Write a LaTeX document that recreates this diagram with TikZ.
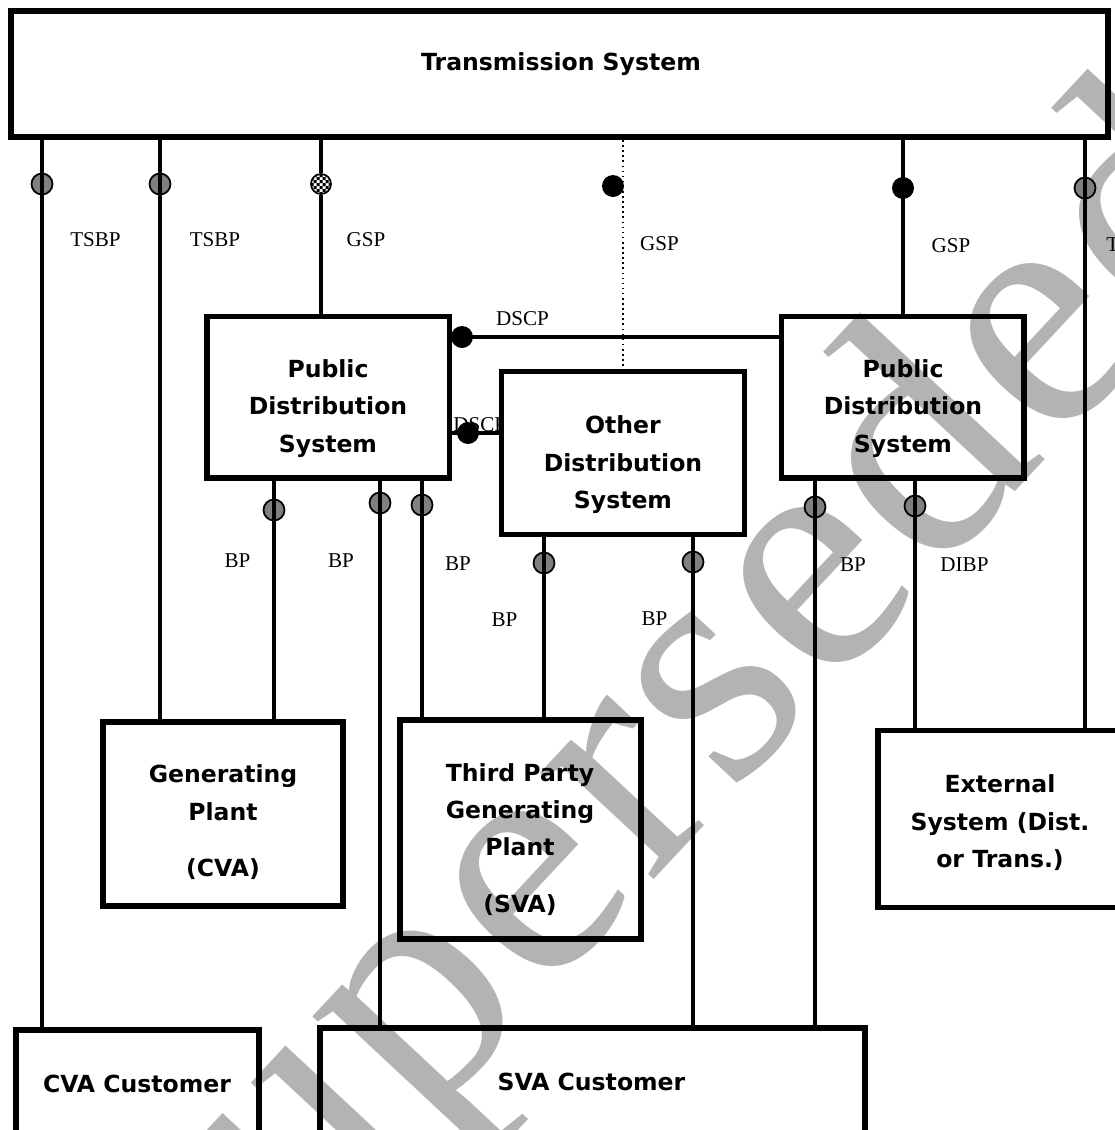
\documentclass[tikz,border=0pt]{standalone}
\usepackage{fontspec}
\setmainfont{Liberation Serif}
\setsansfont{DejaVu Sans}
\newfontfamily\stampfont[LetterSpace=2]{Liberation Serif}
\usetikzlibrary{patterns}
\definecolor{metergray}{RGB}{128,128,128}
\definecolor{stampgray}{RGB}{179,179,179}
% fine checker for the grid supply point
\pgfdeclarepatternformonly{finecheck}{\pgfqpoint{-0.5pt}{-0.5pt}}{\pgfqpoint{4pt}{4pt}}{\pgfqpoint{3.4pt}{3.4pt}}{%
  \pgfpathrectangle{\pgfpointorigin}{\pgfqpoint{1.7pt}{1.7pt}}%
  \pgfpathrectangle{\pgfqpoint{1.7pt}{1.7pt}}{\pgfqpoint{1.7pt}{1.7pt}}%
  \pgfusepath{fill}}

\begin{document}
\begin{tikzpicture}[x=0.02cm, y=-0.02cm,
  sysbox/.style={draw, line width=3.2pt, rectangle, inner sep=0pt},
  systext/.style={font=\sffamily\bfseries\fontsize{13.4}{21.3}\selectfont, align=center, inner sep=0pt},
  feeder/.style={line width=2pt},
  ptlabel/.style={font=\fontsize{12}{14}\selectfont, anchor=base, inner sep=0pt},
  meter/.style={circle, draw, line width=1pt, fill=metergray, minimum size=0.42cm, inner sep=0pt},
  gspdot/.style={circle, fill=black, minimum size=0.44cm, inner sep=0pt}]
\useasboundingbox (0,0) rectangle (1115,1130);

% Watermark behind everything
\node[text=stampgray, rotate=47, anchor=base west, inner sep=0pt, font=\stampfont\fontsize{193}{193}\selectfont] (stamp) at (168,1400) {Superseded};

% Transmission system
\node[sysbox, minimum width=21.94cm, minimum height=2.53cm] (ts) at (559.5,74) {};
\node[systext] (ts-txt) at (561,64) {Transmission System};

% Public distribution systems
\node[sysbox, minimum width=4.85cm, minimum height=3.23cm] (pdsl) at (328.25,397.25) {};
\node[systext] (pdsl-txt) at (328,408.5) {Public\\Distribution\\System};
\node[sysbox, minimum width=4.85cm, minimum height=3.23cm] (pdsr) at (902.75,397.25) {};
\node[systext] (pdsr-txt) at (903,408.5) {Public\\Distribution\\System};

% Other distribution system (hides the end of its DSCP label)
\node[ptlabel, anchor=base west] (dscp2) at (453,431) {DSCP};
\node[sysbox, fill=white, minimum width=4.86cm, minimum height=3.26cm] (other) at (623,453) {};
\node[systext] (other-txt) at (623,465) {Other\\Distribution\\System};

% Generation and external systems
\node[sysbox, minimum width=4.8cm, minimum height=3.68cm] (gen) at (223,814) {};
\node[systext] (gen-txt) at (223,822.5) {Generating\\Plant\\[11pt](CVA)};
\node[sysbox, minimum width=4.82cm, minimum height=4.38cm] (third) at (520.5,829.5) {};
\node[systext] (third-txt) at (520,839.5) {Third Party\\Generating\\Plant\\[11pt](SVA)};
\node[sysbox, minimum width=4.84cm, minimum height=3.54cm] (ext) at (999,819) {};
\node[systext] (ext-txt) at (1000,823) {External\\System (Dist.\\or Trans.)};

% Customers
\node[sysbox, minimum width=4.86cm, minimum height=3.6cm] (cvac) at (137.5,1120) {};
\node[systext] (cvac-txt) at (137,1084) {CVA Customer};
\node[sysbox, minimum width=10.9cm, minimum height=3.6cm] (svac) at (592.5,1118) {};
\node[systext] (svac-txt) at (591.5,1082) {SVA Customer};

% Metering points
\node[meter] (m1) at (42,184) {};
\node[meter] (m2) at (160,184) {};
\node[circle, draw, line width=1pt, fill=white, minimum size=0.4cm, inner sep=0pt] (m3) at (321,184) {};
\fill[pattern=finecheck] (m3) circle (0.19cm);
\node[meter] (m6) at (1085,188) {};
\node[meter] (b1) at (274,510) {};
\node[meter] (b2) at (380,503) {};
\node[meter] (b3) at (422,505) {};
\node[meter] (b4) at (544,563) {};
\node[meter] (b5) at (693,562) {};
\node[meter] (b6) at (815,507) {};
\node[meter] (b7) at (915,506) {};

% Feeders from the transmission system
\draw[feeder] (m1 |- ts.south) -- (m1 |- cvac.north);
\draw[feeder] (m2 |- ts.south) -- (m2 |- gen.north);
\draw[feeder] (m3 |- ts.south) -- (m3.north);
\draw[feeder] (m3.south) -- (m3 |- pdsl.north);
\draw[line width=0.9pt, dotted] (ts.south -| other.north) -- (other.north);
\draw[feeder] (ts.south -| pdsr.north) -- (pdsr.north);
\draw[feeder] (m6 |- ts.south) -- (m6 |- ext.north);

% Feeders below the distribution systems
\draw[feeder] (b1 |- pdsl.south) -- (b1 |- gen.north);
\draw[feeder] (b2 |- pdsl.south) -- (b2 |- svac.north);
\draw[feeder] (b3 |- pdsl.south) -- (b3 |- third.north);
\draw[feeder] (b4 |- other.south) -- (b4 |- third.north);
\draw[feeder] (b5 |- other.south) -- (b5 |- svac.north);
\draw[feeder] (b6 |- pdsr.south) -- (b6 |- svac.north);
\draw[feeder] (b7 |- pdsr.south) -- (b7 |- ext.north);

% Distribution system connection points
\node[gspdot] (m4) at (613,186) {};
\node[gspdot] (m5) at (903,188) {};
\node[gspdot] (d1) at (462,337) {};
\node[gspdot] (d2) at (468,433) {};
\draw[feeder] (d1 -| pdsl.east) -- (d1 -| pdsr.west);
\draw[feeder] (d2 -| pdsl.east) -- (d2 -| other.west);

% Point labels
\node[ptlabel] (l1) at (95.5,246) {TSBP};
\node[ptlabel] (l2) at (215,246) {TSBP};
\node[ptlabel] (l3) at (366,246) {GSP};
\node[ptlabel] (l4) at (659.5,250) {GSP};
\node[ptlabel] (l5) at (951,252) {GSP};
\node[ptlabel, anchor=base west] (l6) at (1106,251) {TSBP};
\node[ptlabel] (dscp1) at (522.5,325) {DSCP};
\node[ptlabel] (l7) at (237.5,567) {BP};
\node[ptlabel] (l8) at (341,567) {BP};
\node[ptlabel] (l9) at (458,570) {BP};
\node[ptlabel] (l10) at (504.5,626) {BP};
\node[ptlabel] (l11) at (654.5,625) {BP};
\node[ptlabel] (l12) at (853,571) {BP};
\node[ptlabel] (l13) at (964.5,571) {DIBP};
\end{tikzpicture}
\end{document}
